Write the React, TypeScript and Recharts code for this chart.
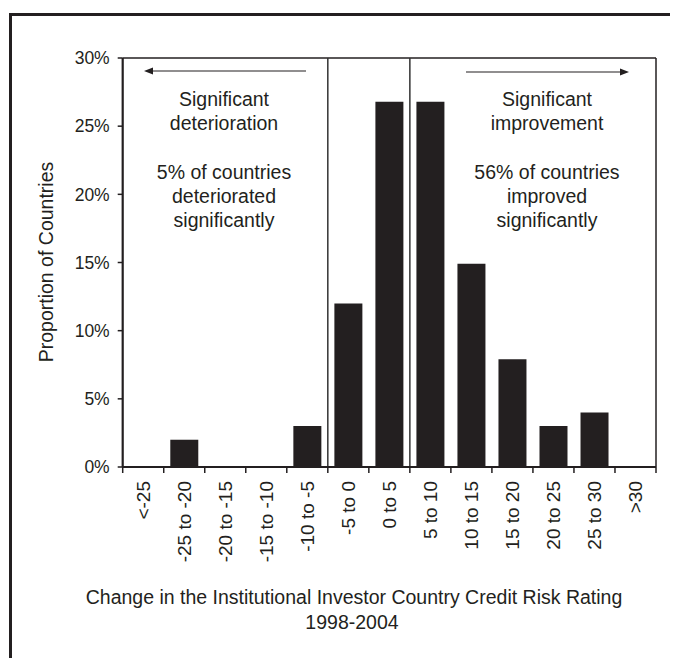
import React from "react";
import { BarChart, Bar, XAxis, YAxis, ReferenceLine } from "recharts";

const RANGES = ["<-25", "-25 to -20", "-20 to -15", "-15 to -10", "-10 to -5", "-5 to 0", "0 to 5", "5 to 10", "10 to 15", "15 to 20", "20 to 25", "25 to 30", ">30"];
const SHARES = [0, 2, 0, 0, 3, 12, 26.8, 26.8, 14.9, 7.9, 3, 4, 0];
const Y_TICKS = [0, 5, 10, 15, 20, 25, 30];
const LEFT_NOTE = ["Significant", "deterioration", "", "5% of countries", "deteriorated", "significantly"];
const RIGHT_NOTE = ["Significant", "improvement", "", "56% of countries", "improved", "significantly"];

const data = RANGES.map((range, i) => ({ range, share: SHARES[i] }));

const INK = "#231f20";
const FONT = "'Liberation Sans', Arial, sans-serif";
const MARGIN = { top: 50, right: 22, left: 54.7, bottom: 190 };
const Y_WIDTH = 60;
const BAND = (670 - MARGIN.left - MARGIN.right - Y_WIDTH) / RANGES.length;
const TICK_GAP = 14;

// label plus boundary tick marks (ticks sit between categories)
const RangeTick = (props: any) => {
  const { x, y, payload, index } = props;
  const half = payload.offset > 0 ? payload.offset : BAND / 2;
  const ay = y - TICK_GAP;
  return (
    <g>
      <line x1={x - half} y1={ay} x2={x - half} y2={ay + 6} stroke={INK} strokeWidth={1.5} />
      {index === RANGES.length - 1 && (
        <line x1={x + half} y1={ay} x2={x + half} y2={ay + 6} stroke={INK} strokeWidth={1.5} />
      )}
      <text
        x={x}
        y={y}
        dy="0.35em"
        transform={`rotate(-90 ${x} ${y})`}
        textAnchor="end"
        fill={INK}
        fontSize={19}
        fontFamily={FONT}
      >
        {payload.value}
      </text>
    </g>
  );
};

const Note = ({ lines, cx, top }: { lines: string[]; cx: number; top: number }) => (
  <text textAnchor="middle" fill={INK} fontSize={19.5} fontFamily={FONT}>
    {lines.map((l, i) => (
      <tspan key={i} x={cx} y={top + i * 24.3} dy="0.35em">
        {l}
      </tspan>
    ))}
  </text>
);

export default function App() {
  return (
    <div style={{ position: "relative", width: 670, height: 650, overflow: "hidden", background: "#fff" }}>
      <div
        style={{
          position: "absolute",
          left: 1,
          top: 5,
          width: 720,
          height: 720,
          borderLeft: `3px solid ${INK}`,
          borderTop: `3px solid ${INK}`,
        }}
      />
      <div style={{ position: "absolute", left: 0, top: 0 }}>
        <BarChart width={670} height={650} data={data} margin={MARGIN} barCategoryGap="16%">
          <XAxis
            dataKey="range"
            height={1}
            interval={0}
            tickSize={0}
            tickMargin={TICK_GAP}
            tickLine={false}
            stroke={INK}
            axisLine={{ stroke: INK, strokeWidth: 2 }}
            tick={<RangeTick />}
          />
          <YAxis
            domain={[0, 30]}
            ticks={Y_TICKS}
            width={Y_WIDTH}
            tickSize={5}
            tickMargin={8}
            stroke={INK}
            tickFormatter={(v) => `${v}%`}
            axisLine={false}
            tickLine={{ stroke: INK, strokeWidth: 1.5 }}
            tick={{ fill: INK, fontSize: 17.5, fontFamily: FONT }}
          />
          <ReferenceLine x="<-25" position="start" stroke={INK} strokeWidth={2.2} />
          <ReferenceLine x=">30" position="end" stroke={INK} strokeWidth={1.5} />
          <ReferenceLine y={30} stroke={INK} strokeWidth={1.5} />
          <ReferenceLine x="-5 to 0" position="start" stroke="#333" strokeWidth={1.5} />
          <ReferenceLine x="5 to 10" position="start" stroke="#333" strokeWidth={1.5} />
          <Bar dataKey="share" fill={INK} isAnimationActive={false} />
        </BarChart>
      </div>
      <svg width={670} height={650} style={{ position: "absolute", left: 0, top: 0, pointerEvents: "none" }}>
        <line x1={298} y1={63} x2={143} y2={63} stroke={INK} strokeWidth={1.2} />
        <polygon points="136,63 145,59.5 145,66.5" fill={INK} />
        <line x1={458} y1={64} x2={614} y2={64} stroke={INK} strokeWidth={1.2} />
        <polygon points="621,64 612,60.5 612,67.5" fill={INK} />
        <Note lines={LEFT_NOTE} cx={216} top={91} />
        <Note lines={RIGHT_NOTE} cx={539} top={91} />
        <text
          x={38}
          y={254}
          dy="0.35em"
          transform="rotate(-90 38 254)"
          textAnchor="middle"
          fill={INK}
          fontSize={19.5}
          fontFamily={FONT}
        >
          Proportion of Countries
        </text>
        <text textAnchor="middle" fill={INK} fontSize={19.5} fontFamily={FONT}>
          <tspan x={346} y={589} dy="0.35em">
            Change in the Institutional Investor Country Credit Risk Rating
          </tspan>
          <tspan x={344} y={614} dy="0.35em">
            1998-2004
          </tspan>
        </text>
      </svg>
    </div>
  );
}
